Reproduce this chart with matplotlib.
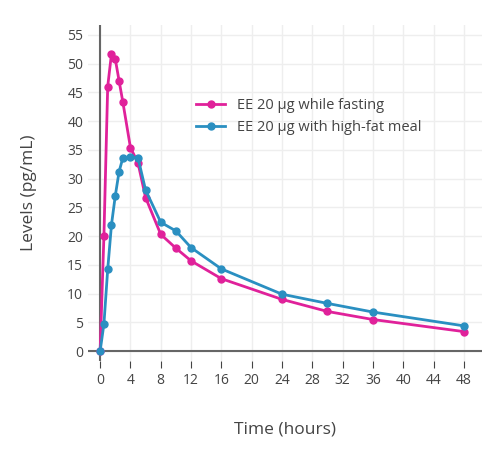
import matplotlib.pyplot as plt

plt.rcParams['font.family'] = ['Open Sans', 'DejaVu Sans']

t = [0, 0.5, 1, 1.5, 2, 2.5, 3, 4, 5, 6, 8, 10, 12, 16, 24, 30, 36, 48]
fasting = [0, 20, 46, 51.7, 50.8, 47, 43.3, 35.4, 32.7, 26.7, 20.3, 17.9, 15.7, 12.6, 9, 6.9, 5.5, 3.4]
fatmeal = [0, 4.7, 14.2, 22, 27, 31.2, 33.6, 33.7, 33.6, 28, 22.4, 20.9, 18, 14.3, 9.9, 8.3, 6.8, 4.4]

fig = plt.figure(figsize=(5, 4.54), dpi=100)
ax = fig.add_axes([0.176, 0.205, 0.788, 0.74])

ax.plot(t, fasting, color='#e0219a', marker='o', ms=5, lw=2, label='EE 20 µg while fasting')
ax.plot(t, fatmeal, color='#2a8fc1', marker='o', ms=5, lw=2, label='EE 20 µg with high-fat meal')

ax.set_xlim(-1.6, 50.4)
ax.set_ylim(-1.7, 56.7)
ax.set_xticks(range(0, 49, 4))
ax.set_yticks(range(0, 56, 5))
ax.grid(color='#eeeeee', lw=1)
ax.set_axisbelow(True)
ax.axhline(0, color='#666666', lw=1.5, zorder=1)
ax.axvline(0, color='#666666', lw=1.5, zorder=1)
for s in ax.spines.values():
    s.set_visible(False)
ax.tick_params(length=5, color='#444444', labelcolor='#444444', labelsize=10)
ax.tick_params(axis='y', length=0)
ax.set_xlabel('Time (hours)', color='#444444', fontsize=12.5, labelpad=24)
ax.set_ylabel('Levels (pg/mL)', color='#444444', fontsize=12.5, labelpad=22)
ax.legend(loc='upper left', bbox_to_anchor=(0.26, 0.80), frameon=False, fontsize=10.5,
          labelcolor='#444444', handlelength=2, borderaxespad=0)

fig.savefig('out.png')
